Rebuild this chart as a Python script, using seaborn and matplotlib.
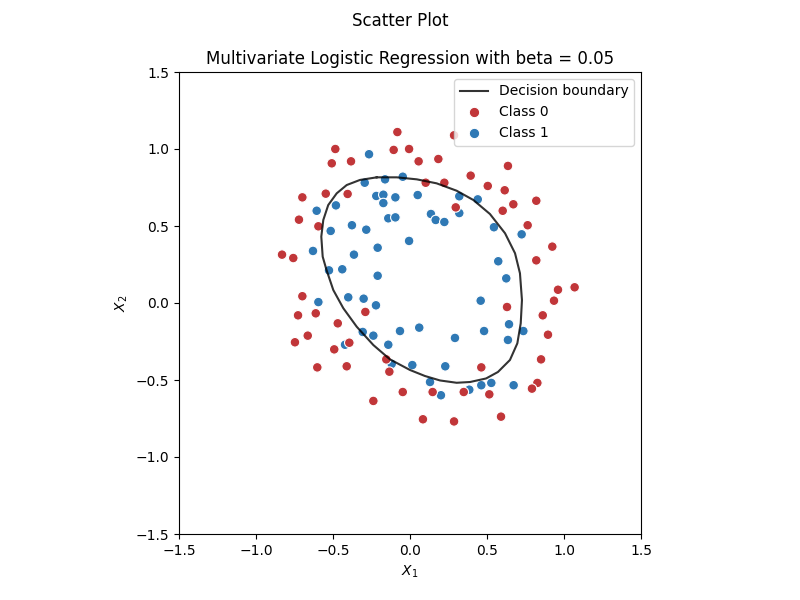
import numpy as np
import pandas as pd
import seaborn as sns
import matplotlib
matplotlib.use("Agg")
import matplotlib.pyplot as plt
from matplotlib.lines import Line2D

# Class 0 (red) points
x0 = [-0.082, 0.286, -0.485, -0.106, -0.006, -0.508, -0.383, 0.056, 0.184, 0.102,
      0.223, -0.699, -0.547, -0.405, 0.297, -0.721, -0.595, -0.831, -0.758, -0.699,
      0.636, 0.394, 0.505, 0.615, 0.820, 0.671, 0.602, 0.764, 0.924, 0.820,
      0.961, 1.069, 0.935, 0.630, -0.727, -0.612, -0.469, -0.290, -0.664, -0.747,
      -0.492, -0.394, -0.602, -0.411, -0.154, -0.134, -0.047, 0.147, -0.238, 0.084,
      0.286, 0.862, 0.896, 0.851, 0.463, 0.827, 0.792, 0.349, 0.515, 0.591]
y0 = [1.110, 1.089, 1.000, 0.994, 1.000, 0.907, 0.920, 0.920, 0.935, 0.781,
      0.781, 0.686, 0.710, 0.708, 0.621, 0.541, 0.498, 0.314, 0.292, 0.044,
      0.890, 0.827, 0.760, 0.732, 0.664, 0.641, 0.599, 0.505, 0.366, 0.277,
      0.086, 0.102, 0.015, -0.026, -0.080, -0.067, -0.132, -0.058, -0.212, -0.255,
      -0.301, -0.258, -0.418, -0.411, -0.366, -0.446, -0.578, -0.578, -0.636, -0.755,
      -0.769, -0.080, -0.206, -0.366, -0.418, -0.519, -0.556, -0.578, -0.593, -0.738]

# Class 1 (blue) points
x1 = [-0.266, -0.294, -0.162, -0.047, -0.219, -0.173, -0.095, -0.173, 0.050, 0.320,
      -0.606, -0.481, -0.141, -0.095, 0.136, 0.167, 0.223, -0.515, -0.377, -0.284,
      -0.006, -0.630, -0.364, -0.210, -0.526, -0.440, -0.210, -0.595, -0.401, -0.301,
      -0.221, 0.440, 0.320, 0.545, 0.725, 0.573, 0.625, 0.459, -0.307, -0.238,
      -0.065, 0.060, 0.292, -0.422, -0.141, -0.119, 0.015, 0.229, 0.130, 0.201,
      0.481, 0.643, 0.736, 0.636, 0.385, 0.463, 0.528, 0.673]
y1 = [0.966, 0.781, 0.803, 0.820, 0.695, 0.703, 0.686, 0.649, 0.701, 0.693,
      0.599, 0.634, 0.550, 0.556, 0.578, 0.539, 0.526, 0.468, 0.505, 0.476,
      0.403, 0.338, 0.314, 0.359, 0.212, 0.219, 0.177, 0.006, 0.037, 0.028,
      -0.015, 0.673, 0.584, 0.492, 0.446, 0.271, 0.160, 0.015, -0.188, -0.212,
      -0.182, -0.160, -0.227, -0.271, -0.271, -0.396, -0.403, -0.411, -0.513, -0.599,
      -0.182, -0.138, -0.182, -0.240, -0.563, -0.534, -0.519, -0.534]

# decision boundary (closed curve)
boundary_x = [-0.216, -0.086, 0.044, 0.173, 0.303, 0.411, 0.519, 0.617, 0.682, 0.714,
              0.727, 0.719, 0.697, 0.649, 0.571, 0.494, 0.390, 0.303, 0.195, 0.097,
              0.000, -0.130, -0.238, -0.346, -0.433, -0.498, -0.542, -0.567, -0.576, -0.563,
              -0.531, -0.476, -0.411, -0.325, -0.216]
boundary_y = [0.816, 0.816, 0.803, 0.777, 0.729, 0.669, 0.578, 0.453, 0.323, 0.193,
              0.019, -0.132, -0.262, -0.370, -0.448, -0.490, -0.513, -0.518, -0.503, -0.474,
              -0.435, -0.366, -0.273, -0.154, -0.034, 0.084, 0.214, 0.301, 0.431, 0.539,
              0.636, 0.712, 0.766, 0.799, 0.816]

# class 1 first so red points sit on top where they overlap
df = pd.DataFrame({
    "x1": x1 + x0,
    "x2": y1 + y0,
    "label": ["Class 1"] * len(x1) + ["Class 0"] * len(x0),
})

pal = sns.color_palette("RdBu", 6)
colors = {"Class 0": pal[0], "Class 1": pal[5]}

fig, ax = plt.subplots(figsize=(8, 6), dpi=100)
line, = ax.plot(boundary_x, boundary_y, color="k", alpha=0.8, lw=1.5,
                label="Decision boundary")
sns.scatterplot(data=df, x="x1", y="x2", hue="label",
                hue_order=["Class 0", "Class 1"], palette=colors, s=48,
                edgecolor="white", linewidth=0.8, ax=ax, legend=False)

handles = [line]
for name in ["Class 0", "Class 1"]:
    handles.append(Line2D([], [], ls="", marker="o", markersize=7.5,
                          markerfacecolor=colors[name], markeredgecolor="white",
                          markeredgewidth=0.8))
ax.legend(handles, ["Decision boundary", "Class 0", "Class 1"], loc="upper right")

ax.set_xlim(-1.5, 1.5)
ax.set_ylim(-1.5, 1.5)
ax.set_aspect("equal")
ax.set_xlabel("$X_1$")
ax.set_ylabel("$X_2$")
ax.set_title("Multivariate Logistic Regression with beta = 0.05")
fig.suptitle("Scatter Plot")

plt.savefig("out.png")
